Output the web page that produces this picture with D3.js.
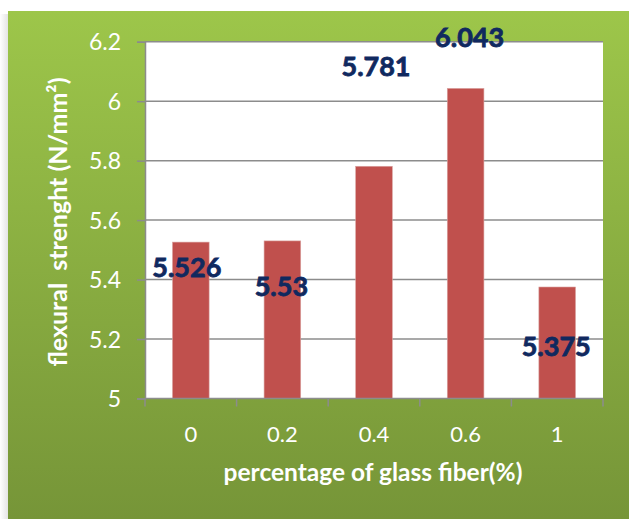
<!DOCTYPE html>
<html>
<head>
<meta charset="utf-8">
<script src="https://cdn.jsdelivr.net/npm/d3@7/dist/d3.min.js"></script>
<style>
  html, body { margin: 0; padding: 0; background: #ffffff; }
  svg { display: block; }
  text { font-family: Lato, "Open Sans", sans-serif; }
</style>
</head>
<body>
<svg id="chart" width="629" height="519"></svg>
<script>
// Flexural strength by glass fibre content
const categories = ["0", "0.2", "0.4", "0.6", "1"];
const strength = [5.526, 5.53, 5.781, 6.043, 5.375];
const valueLabels = ["5.526", "5.53", "5.781", "6.043", "5.375"];
const yTicks = [5, 5.2, 5.4, 5.6, 5.8, 6, 6.2];
const yTickLabels = ["5", "5.2", "5.4", "5.6", "5.8", "6", "6.2"];

// Hand-placed data label offsets (px) from the top-centre of each bar
const labelDx = [-4, -1, 2, 4, -1];
const labelDy = [35, 55, -90, -41, 69];

const W = 629, H = 519;
const plot = { left: 145, right: 603, top: 41.7, bottom: 398.5 };

const svg = d3.select("#chart");
const defs = svg.append("defs");

const bg = defs.append("linearGradient")
  .attr("id", "panelGrad").attr("x1", 0).attr("y1", 0).attr("x2", 0).attr("y2", 1);
bg.append("stop").attr("offset", "0%").attr("stop-color", "#9dc64a");
bg.append("stop").attr("offset", "100%").attr("stop-color", "#769538");

const shadow = defs.append("linearGradient")
  .attr("id", "shadowGrad").attr("x1", 0).attr("y1", 0).attr("x2", 1).attr("y2", 0);
shadow.append("stop").attr("offset", "0%").attr("stop-color", "#ffffff");
shadow.append("stop").attr("offset", "100%").attr("stop-color", "#e4e4e4");

// Panel with a faint drop shadow on its left edge
svg.append("rect").attr("x", 0).attr("y", 14).attr("width", 8).attr("height", H - 14)
  .attr("fill", "url(#shadowGrad)");
svg.append("rect").attr("x", 8).attr("y", 11).attr("width", W - 8).attr("height", H - 11)
  .attr("fill", "url(#panelGrad)");

// Plot area
svg.append("rect")
  .attr("x", plot.left).attr("y", plot.top)
  .attr("width", plot.right - plot.left).attr("height", plot.bottom - plot.top)
  .attr("fill", "#ffffff");

const x = d3.scaleBand().domain(categories).range([plot.left, plot.right]).paddingInner(0).paddingOuter(0);
const y = d3.scaleLinear().domain([5, 6.2]).range([plot.bottom, plot.top]);

// Horizontal gridlines
svg.append("g").selectAll("line").data(yTicks.slice(1)).join("line")
  .attr("x1", plot.left).attr("x2", plot.right)
  .attr("y1", d => y(d)).attr("y2", d => y(d))
  .attr("stroke", "#8c8c8c").attr("stroke-width", 1.5);

// Bars
const barW = x.bandwidth() * 0.4;
svg.append("g").selectAll("rect").data(strength).join("rect")
  .attr("x", (d, i) => x(categories[i]) + (x.bandwidth() - barW) / 2)
  .attr("y", d => y(d))
  .attr("width", barW)
  .attr("height", d => y(5) - y(d))
  .attr("fill", "#c0504d")
  .attr("stroke", "#d9a3a1").attr("stroke-width", 0.6);

// Y axis
const yAxis = d3.axisLeft(y).tickValues(yTicks)
  .tickFormat((d, i) => yTickLabels[i]).tickSize(8).tickPadding(16);
const gy = svg.append("g").attr("transform", `translate(${plot.left},0)`).call(yAxis);
gy.select(".domain").attr("stroke", "#8c8c8c").attr("stroke-width", 1.5);
gy.selectAll(".tick line").attr("stroke", "#8c8c8c").attr("stroke-width", 1.5);
gy.selectAll(".tick text").attr("fill", "#ffffff").attr("font-size", 23)
  .attr("font-family", "Lato, sans-serif").attr("dy", "0.36em");

// X axis: ticks sit on the category boundaries
const boundaries = categories.map(c => x(c)).concat([plot.right]);
svg.append("line")
  .attr("x1", plot.left).attr("x2", plot.right)
  .attr("y1", y(5)).attr("y2", y(5))
  .attr("stroke", "#8c8c8c").attr("stroke-width", 1.5);
svg.append("g").selectAll("line").data(boundaries).join("line")
  .attr("x1", d => d).attr("x2", d => d)
  .attr("y1", y(5)).attr("y2", y(5) + 8)
  .attr("stroke", "#8c8c8c").attr("stroke-width", 1.5);
svg.append("g").selectAll("text").data(categories).join("text")
  .attr("x", d => x(d) + x.bandwidth() / 2)
  .attr("y", 442)
  .attr("text-anchor", "middle")
  .attr("fill", "#ffffff").attr("font-size", 22)
  .text(d => d);

// Value labels (a thin same-colour stroke gives them extra weight)
svg.append("g").selectAll("text").data(strength).join("text")
  .attr("x", (d, i) => x(categories[i]) + x.bandwidth() / 2 + labelDx[i])
  .attr("y", (d, i) => y(d) + labelDy[i])
  .attr("text-anchor", "middle")
  .attr("fill", "#10295f").attr("stroke", "#10295f").attr("stroke-width", 0.8)
  .attr("font-size", 27).attr("font-weight", 700)
  .text((d, i) => valueLabels[i]);

// Axis titles
svg.append("text")
  .attr("x", (plot.left + plot.right) / 2 - 1).attr("y", 481)
  .attr("text-anchor", "middle")
  .attr("fill", "#ffffff").attr("font-size", 24.5).attr("font-weight", 700)
  .text("percentage of glass fiber(%)");

svg.append("text")
  .attr("transform", "translate(67,222) rotate(-90)")
  .attr("text-anchor", "middle")
  .attr("fill", "#ffffff").attr("font-size", 25).attr("font-weight", 700)
  .attr("xml:space", "preserve")
  .style("white-space", "pre")
  .text("flexural  strenght (N/mm²)");
</script>
</body>
</html>
